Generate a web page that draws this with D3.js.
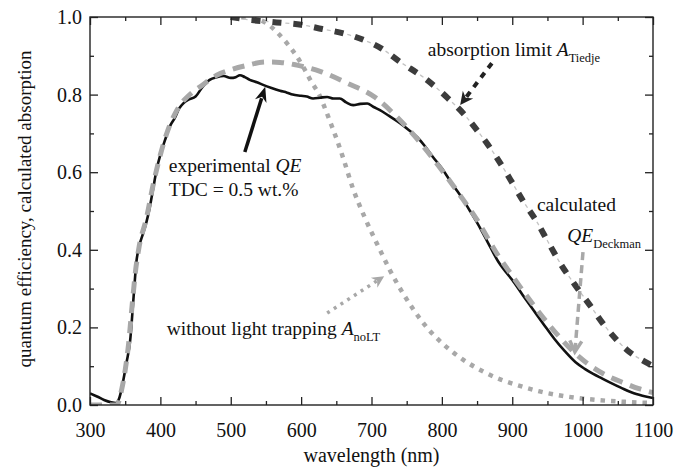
<!DOCTYPE html>
<html>
<head>
<meta charset="utf-8">
<script src="https://cdn.jsdelivr.net/npm/d3@7"></script>
<style>
  body { margin: 0; background: #fff; }
  svg text { font-family: "Liberation Serif", "Times New Roman", serif; fill: #111; }
</style>
</head>
<body>
<svg width="691" height="471"></svg>
<script>
// experimental QE (TDC = 0.5 wt.%)
const qeWl = [300,310,320,330,337,342,348,352,357,362,366,370,375,380,385,390,395,400,407,414,420,427,433,440,450,460,470,480,490,500,507,513,520,527,537,546,558,570,580,588,600,608,617,627,637,646,655,664,674,684,694,703,712,725,740,752,765,776,787,800,811,820,830,840,850,865,880,890,900,915,930,945,960,975,990,1003,1015,1028,1040,1055,1070,1085,1100];
const qeExp = [0.03,0.022,0.013,0.007,0.005,0.02,0.07,0.11,0.165,0.28,0.37,0.41,0.44,0.47,0.51,0.56,0.61,0.645,0.685,0.72,0.738,0.765,0.778,0.787,0.795,0.82,0.838,0.845,0.848,0.843,0.845,0.85,0.845,0.838,0.832,0.825,0.817,0.81,0.805,0.8,0.797,0.795,0.79,0.792,0.794,0.79,0.79,0.78,0.773,0.776,0.777,0.768,0.76,0.745,0.727,0.71,0.69,0.667,0.64,0.61,0.58,0.556,0.53,0.5,0.47,0.42,0.37,0.345,0.322,0.283,0.245,0.207,0.17,0.138,0.11,0.093,0.08,0.068,0.057,0.044,0.032,0.024,0.018];

// calculated QE (Deckman)
const deckWl = [300,320,338,345,350,355,360,365,370,380,390,400,410,420,430,440,460,480,500,520,550,570,594,627,665,705,740,773,800,826,850,880,900,930,960,990,1030,1060,1080,1100];
const deckQE = [0,0,0,0.04,0.09,0.16,0.26,0.35,0.41,0.48,0.57,0.645,0.705,0.748,0.778,0.797,0.825,0.85,0.864,0.874,0.884,0.883,0.876,0.86,0.83,0.793,0.735,0.668,0.605,0.54,0.477,0.385,0.333,0.258,0.19,0.132,0.08,0.056,0.042,0.032];

// absorption limit (Tiedje)
const tiedjeWl = [500,530,565,600,630,660,690,715,740,775,806,835,850,865,880,897,916,935,951,970,989,1010,1034,1063,1093,1100];
const tiedjeA = [1.0,0.992,0.986,0.98,0.969,0.958,0.94,0.918,0.885,0.843,0.795,0.742,0.708,0.672,0.632,0.582,0.524,0.472,0.42,0.36,0.31,0.258,0.198,0.142,0.107,0.1];

// without light trapping
const noltWl = [500,530,550,565,580,594,605,613,627,636,645,651,660,674,690,712,726,745,760,780,800,830,860,883,906,939,977,1020,1062,1100];
const noltA = [1.0,0.997,0.985,0.962,0.932,0.898,0.865,0.838,0.795,0.755,0.712,0.683,0.635,0.556,0.485,0.4,0.348,0.287,0.245,0.197,0.16,0.117,0.085,0.066,0.052,0.035,0.022,0.013,0.008,0.005];

const xTicks = [300,400,500,600,700,800,900,1000,1100];
const xMinor = [350,450,550,650,750,850,950,1050];
const yTicks = [0,0.2,0.4,0.6,0.8,1.0];
const yMinor = [0.1,0.3,0.5,0.7,0.9];

const svg = d3.select("svg");
const margin = {left: 90, top: 17, right: 38, bottom: 66};
const width = +svg.attr("width") - margin.left - margin.right;
const height = +svg.attr("height") - margin.top - margin.bottom;

const x = d3.scaleLinear().domain([300, 1100]).range([0, width]);
const y = d3.scaleLinear().domain([0, 1]).range([height, 0]);

const g = svg.append("g").attr("transform", `translate(${margin.left},${margin.top})`);

g.append("clipPath").attr("id", "clip")
  .append("rect").attr("width", width).attr("height", height);

const line = d3.line()
  .x(d => x(d[0]))
  .y(d => y(d[1]))
  .curve(d3.curveMonotoneX);

const pairs = (a, b) => a.map((v, i) => [v, b[i]]);

const plot = g.append("g").attr("clip-path", "url(#clip)");

// without light trapping: grey dots
plot.append("path")
  .attr("d", line(pairs(noltWl, noltA)))
  .attr("fill", "none").attr("stroke", "#a8a8a8")
  .attr("stroke-width", 4.5).attr("stroke-dasharray", "4.5,6");

// Tiedje: thin light dashes in the gaps of heavy dark dashes
plot.append("path")
  .attr("d", line(pairs(tiedjeWl, tiedjeA)))
  .attr("fill", "none").attr("stroke", "#c4c4c4")
  .attr("stroke-width", 1.3).attr("stroke-dasharray", "4,17").attr("stroke-dashoffset", -13);
plot.append("path")
  .attr("d", line(pairs(tiedjeWl, tiedjeA)))
  .attr("fill", "none").attr("stroke", "#3c3c3c")
  .attr("stroke-width", 6).attr("stroke-dasharray", "9,12");

// experimental QE: solid black
plot.append("path")
  .attr("d", line(pairs(qeWl, qeExp)))
  .attr("fill", "none").attr("stroke", "#111")
  .attr("stroke-width", 2.6);

// Deckman: grey long dashes
plot.append("path")
  .attr("d", line(pairs(deckWl, deckQE)))
  .attr("fill", "none").attr("stroke", "#a8a8a8")
  .attr("stroke-width", 5).attr("stroke-dasharray", "12,8");

// axes, ticks pointing inward on all four sides
function styleAxis(sel) {
  sel.select(".domain").remove();
  sel.selectAll(".tick line").attr("stroke", "#222").attr("stroke-width", 1.3);
  sel.selectAll(".tick text").attr("font-size", 20).attr("fill", "#111")
    .attr("font-family", '"Liberation Serif", serif');
}

g.append("g").attr("transform", `translate(0,${height})`)
  .call(d3.axisBottom(x).tickValues(xTicks).tickSize(-8).tickPadding(18).tickFormat(d3.format("d")))
  .call(styleAxis);
g.append("g").attr("transform", `translate(0,${height})`)
  .call(d3.axisBottom(x).tickValues(xMinor).tickSize(-4).tickFormat(""))
  .call(styleAxis);
g.append("g")
  .call(d3.axisTop(x).tickValues(xTicks).tickSize(-8).tickFormat(""))
  .call(styleAxis);
g.append("g")
  .call(d3.axisTop(x).tickValues(xMinor).tickSize(-4).tickFormat(""))
  .call(styleAxis);

g.append("g")
  .call(d3.axisLeft(y).tickValues(yTicks).tickSize(-8).tickPadding(8).tickFormat(d3.format(".1f")))
  .call(styleAxis);
g.append("g")
  .call(d3.axisLeft(y).tickValues(yMinor).tickSize(-4).tickFormat(""))
  .call(styleAxis);
g.append("g").attr("transform", `translate(${width},0)`)
  .call(d3.axisRight(y).tickValues(yTicks).tickSize(-8).tickFormat(""))
  .call(styleAxis);
g.append("g").attr("transform", `translate(${width},0)`)
  .call(d3.axisRight(y).tickValues(yMinor).tickSize(-4).tickFormat(""))
  .call(styleAxis);

g.append("rect")
  .attr("width", width).attr("height", height)
  .attr("fill", "none").attr("stroke", "#222").attr("stroke-width", 1.4);

// axis titles
g.append("text")
  .attr("x", width / 2).attr("y", height + 57)
  .attr("text-anchor", "middle").attr("font-size", 20)
  .text("wavelength (nm)");
g.append("text")
  .attr("transform", `translate(${31 - margin.left},${height / 2 - 2}) rotate(-90)`)
  .attr("text-anchor", "middle").attr("font-size", 19)
  .text("quantum efficiency, calculated absorption");

// annotations (anchored in data coordinates)
function label(wl, v, parts) {
  const t = g.append("text").attr("x", x(wl)).attr("y", y(v)).attr("font-size", 19.5);
  let sub = false;
  parts.forEach(p => {
    const s = t.append("tspan").text(p.t);
    if (p.i) s.attr("font-style", "italic");
    if (p.sub && !sub) { s.attr("font-size", 12.5).attr("dy", 6); sub = true; }
    else if (!p.sub && sub) { s.attr("dy", -6); sub = false; }
  });
  return t;
}

function arrow(from, to, opts) {
  const x1 = x(from[0]), y1 = y(from[1]), x2 = x(to[0]), y2 = y(to[1]);
  const ang = Math.atan2(y2 - y1, x2 - x1);
  const L = opts.head || 13, W = opts.headW || 6.5;
  const bx = x2 - L * Math.cos(ang), by = y2 - L * Math.sin(ang);
  const px = -Math.sin(ang), py = Math.cos(ang);
  const lx = x2 - (L - 3) * Math.cos(ang), ly = y2 - (L - 3) * Math.sin(ang);
  g.append("line")
    .attr("x1", x1).attr("y1", y1)
    .attr("x2", opts.open ? x2 - 2 * Math.cos(ang) : lx).attr("y2", opts.open ? y2 - 2 * Math.sin(ang) : ly)
    .attr("stroke", opts.color).attr("stroke-width", opts.w)
    .attr("stroke-dasharray", opts.dash || null);
  const p1 = [bx + W * px, by + W * py], p2 = [bx - W * px, by - W * py];
  if (opts.open) {
    g.append("path")
      .attr("d", `M${p1}L${x2},${y2}L${p2}`)
      .attr("fill", "none").attr("stroke", opts.color).attr("stroke-width", opts.w);
  } else {
    const nx = x2 - (L * 0.7) * Math.cos(ang), ny = y2 - (L * 0.7) * Math.sin(ang);
    g.append("path")
      .attr("d", `M${x2},${y2}L${p1}L${nx},${ny}L${p2}Z`)
      .attr("fill", opts.color);
  }
}

label(780, 0.9, [{t: "absorption limit "}, {t: "A", i: true}, {t: "Tiedje", sub: true}]);
arrow([871, 0.881], [826, 0.773], {color: "#222", w: 4, dash: "6,6"});

label(935, 0.5, [{t: "calculated"}]);
label(978, 0.42, [{t: "QE", i: true}, {t: "Deckman", sub: true}]);
arrow([1000.5, 0.394], [989, 0.137], {color: "#a8a8a8", w: 3.5, dash: "8,5", open: true, head: 11, headW: 6});

label(412, 0.6, [{t: "experimental "}, {t: "QE", i: true}]);
label(412, 0.539, [{t: "TDC = 0.5 wt.%"}]);
arrow([520, 0.652], [549, 0.82], {color: "#111", w: 3.5, head: 15, headW: 6});

label(409, 0.18, [{t: "without light trapping "}, {t: "A", i: true}, {t: "noLT", sub: true}]);
arrow([637, 0.237], [718, 0.332], {color: "#a8a8a8", w: 3.5, dash: "3,5", head: 12, headW: 6});
</script>
</body>
</html>
